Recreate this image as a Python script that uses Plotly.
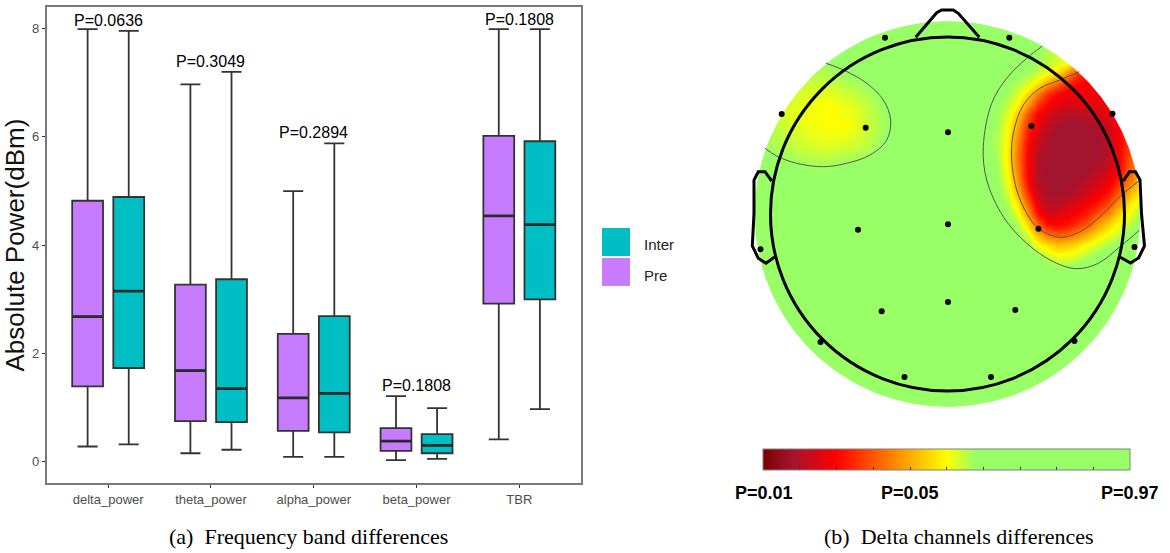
"""Frequency band boxplots (a) and delta channel p-value topomap (b)."""
import numpy as np
import plotly.graph_objects as go

W, H = 1170, 553

bands = ["delta_power", "theta_power", "alpha_power", "beta_power", "TBR"]
pre_low = [0.28, 0.155, 0.09, 0.03, 0.41]
pre_q1 = [1.39, 0.75, 0.57, 0.20, 2.92]
pre_med = [2.68, 1.68, 1.18, 0.38, 4.54]
pre_q3 = [4.82, 3.27, 2.36, 0.62, 6.02]
pre_up = [7.99, 6.97, 5.00, 1.21, 7.99]
inter_low = [0.32, 0.22, 0.09, 0.05, 0.97]
inter_q1 = [1.73, 0.73, 0.54, 0.155, 3.00]
inter_med = [3.15, 1.35, 1.26, 0.30, 4.38]
inter_q3 = [4.89, 3.37, 2.69, 0.51, 5.92]
inter_up = [7.96, 7.20, 5.88, 0.99, 7.99]
p_labels = ["P=0.0636", "P=0.3049", "P=0.2894", "P=0.1808", "P=0.1808"]
p_label_y = [8.15, 7.40, 6.08, 1.40, 8.17]

# topomap: head radius = 177 units
elec_x = [-62.5, 61.8, -165.8, -81.8, 0.5, 83.8, 165, -187, -89.5, 0.5, 91, 187,
          -65.8, 0.5, 67.8, -127, 127, -43, 43.5]
elec_y = [176.3, 176.3, 100, 86.3, 81.7, 88, 100.3, -35.3, -15.7, -10.3, -14.7, -33,
          -97.3, -88, -96, -128, -127, -163, -163]

nose_x = [-31.8, -10.8, -5.8, 5.8, 10.8, 31.8]
nose_y = [176.7, 201.3, 204, 204, 200.7, 176.7]
ear_l_x = [-175.8, -182.5, -189.2, -193.5, -193.5, -195.2, -189.2, -181.5, -172.5]
ear_l_y = [33, 42.3, 42.3, 34, 0.7, -32, -44.3, -49.3, -42.7]
ear_r_x = [175.8, 182, 188, 192.5, 194, 197, 191, 183, 172]
ear_r_y = [33, 42.3, 42.3, 34, 0, -32, -44, -49, -42.7]

cont_left_x = [-121.5, -102.5, -80.8, -64.2, -56.8, -60.8, -77.5, -100.8, -124.2, -150.8, -170.8, -182.5]
cont_left_y = [150.7, 143.3, 130.7, 114, 94, 74, 59, 50.7, 47.3, 50.7, 58, 65.7]
cont_outer_x = [94.8, 79.2, 59.2, 44.2, 35.8, 39.2, 55.8, 79.2, 105.8, 129.2, 150.8, 172.5, 191.8]
cont_outer_y = [168, 155.7, 135.7, 110.7, 67.3, 34, -2.7, -29.3, -47.7, -54.7, -49.3, -32.7, -16.3]
cont_inner_x = [131.8, 112.5, 92.5, 75.8, 65.8, 64.2, 69.2, 79.2, 91.2, 112.5, 132.5, 152.5, 172.5, 191.5]
cont_inner_y = [142.3, 134, 125.7, 109, 80.7, 54, 24, 0.7, -14.7, -23.3, -17.7, -2.7, 17.3, 33.3]

# p-value levels (colour position on the bar, 0..1)
right_x = [30, 40, 50, 60, 70, 80, 90, 100, 110, 120, 130, 140, 150, 160, 170, 180, 190, 200]
right_y = [180, 170, 160, 150, 140, 130, 120, 110, 100, 90, 80, 70, 60, 50, 40, 30, 20, 10, 0,
           -10, -20, -30, -40, -50, -60]
right_z = [
    [.6, .6, .6, .6, .6, .6, .59, .58, .56, .54, .5, .45, .4, .4, .4, .4, .4, .4],
    [.6, .6, .6, .6, .6, .6, .59, .57, .55, .52, .48, .42, .36, .36, .36, .36, .36, .36],
    [.6, .6, .6, .6, .6, .6, .58, .56, .54, .51, .45, .36, .3, .3, .3, .3, .3, .3],
    [.6, .6, .6, .6, .6, .59, .57, .55, .53, .49, .4, .3, .25, .25, .25, .25, .25, .25],
    [.6, .6, .6, .6, .59, .57, .54, .5, .45, .36, .26, .22, .22, .22, .22, .22, .22, .22],
    [.6, .6, .6, .58, .56, .53, .47, .38, .31, .24, .2, .19, .2, .24, .24, .24, .24, .24],
    [.6, .6, .59, .57, .53, .46, .35, .25, .2, .18, .18, .18, .18, .2, .24, .24, .24, .24],
    [.6, .6, .58, .55, .5, .39, .27, .2, .17, .15, .16, .17, .17, .18, .2, .24, .26, .26],
    [.6, .59, .57, .53, .44, .3, .2, .16, .12, .1, .1, .12, .15, .17, .2, .24, .28, .28],
    [.6, .59, .57, .51, .4, .26, .18, .12, .09, .08, .08, .09, .1, .14, .19, .25, .3, .3],
    [.6, .59, .56, .5, .37, .23, .15, .1, .08, .08, .08, .08, .08, .12, .19, .25, .31, .31],
    [.6, .58, .56, .49, .35, .21, .13, .09, .08, .08, .08, .08, .08, .11, .18, .26, .33, .33],
    [.6, .59, .56, .48, .34, .2, .11, .08, .08, .08, .08, .08, .08, .11, .18, .27, .35, .35],
    [.6, .59, .57, .49, .34, .2, .1, .08, .08, .08, .08, .08, .09, .12, .18, .28, .36, .36],
    [.6, .6, .57, .5, .36, .2, .1, .08, .08, .08, .08, .09, .12, .15, .2, .3, .38, .38],
    [.6, .6, .58, .52, .38, .22, .11, .08, .08, .08, .09, .12, .15, .18, .25, .34, .42, .42],
    [.6, .6, .59, .54, .42, .26, .13, .09, .08, .09, .12, .15, .18, .22, .3, .4, .47, .47],
    [.6, .6, .6, .56, .47, .32, .17, .11, .11, .14, .16, .19, .23, .28, .37, .46, .52, .52],
    [.6, .6, .6, .58, .52, .38, .22, .15, .16, .18, .2, .24, .3, .35, .44, .5, .55, .55],
    [.6, .6, .6, .59, .56, .46, .31, .21, .2, .22, .26, .3, .38, .44, .5, .54, .58, .58],
    [.6, .6, .6, .6, .58, .53, .41, .33, .3, .31, .35, .4, .46, .5, .54, .58, .6, .6],
    [.6, .6, .6, .6, .6, .57, .5, .45, .42, .43, .46, .5, .53, .56, .58, .6, .6, .6],
    [.6, .6, .6, .6, .6, .6, .57, .53, .5, .5, .52, .55, .58, .6, .6, .6, .6, .6],
    [.6, .6, .6, .6, .6, .6, .6, .58, .56, .56, .58, .6, .6, .6, .6, .6, .6, .6],
    [.6, .6, .6, .6, .6, .6, .6, .6, .6, .6, .6, .6, .6, .6, .6, .6, .6, .6],
]
left_x = [-200, -180, -160, -140, -120, -100, -80, -60, -40]
left_y = [170, 150, 130, 110, 90, 70, 50, 30]
left_z = [
    [.6, .6, .6, .6, .6, .6, .6, .6, .6],
    [.6, .59, .58, .58, .58, .6, .6, .6, .6],
    [.59, .57, .56, .54, .54, .56, .58, .6, .6],
    [.58, .56, .53, .51, .5, .52, .55, .59, .6],
    [.58, .56, .53, .51, .5, .5, .54, .58, .6],
    [.59, .57, .55, .53, .52, .53, .55, .59, .6],
    [.6, .59, .58, .57, .57, .58, .59, .6, .6],
    [.6, .6, .6, .6, .6, .6, .6, .6, .6],
]
bar_ticks = [0, .1, .2, .3, .4, .5, .6, .7, .8, .9, 1]
bar_labels = ["P=0.01", "P=0.05", "P=0.97"]
bar_label_pos = [0, .4, 1]

PURPLE = "#C77CFF"
TEAL = "#00BFC4"
GREEN = "#99FF66"
colorscale = [[0, "#7a0000"], [.08, "#a3142e"], [.2, "#ff0000"], [.35, "#ff8000"],
              [.5, "#ffff00"], [.58, GREEN], [1, GREEN]]


def px(x):
    return x / W


def py(y):
    return 1 - y / H


fig = go.Figure()

# (a) boxplots -------------------------------------------------------------
for name, color, low, q1, med, q3, up in [
    ("Pre", PURPLE, pre_low, pre_q1, pre_med, pre_q3, pre_up),
    ("Inter", TEAL, inter_low, inter_q1, inter_med, inter_q3, inter_up),
]:
    fig.add_trace(go.Box(x=bands, lowerfence=low, q1=q1, median=med, q3=q3, upperfence=up,
                         name=name, fillcolor=color, line=dict(color="#333333", width=1.8),
                         whiskerwidth=0.65, boxpoints=False, showlegend=False,
                         offsetgroup=name, xaxis="x", yaxis="y"))
    # thicker median bar: a flat box on the same slot
    fig.add_trace(go.Box(x=bands, lowerfence=med, q1=med, median=med, q3=med, upperfence=med,
                         name=name, fillcolor="rgba(0,0,0,0)", line=dict(color="#2b2b2b", width=2.8),
                         whiskerwidth=0, boxpoints=False, showlegend=False,
                         offsetgroup=name, xaxis="x", yaxis="y"))

# (b) topomap --------------------------------------------------------------
for xs, ys, zs in [(right_x, right_y, right_z), (left_x, left_y, left_z)]:
    fig.add_trace(go.Heatmap(x=xs, y=ys, z=zs, coloraxis="coloraxis", zsmooth="best",
                             xaxis="x2", yaxis="y2", hoverinfo="skip"))

# white mask outside the coloured disc
theta = np.linspace(0, 2 * np.pi, 361)
mask_x = [-216, -216, 216, 216, -216] + list(-193 * np.cos(theta))
mask_y = [-216, 216, 216, -216, -216] + list(-193 * np.sin(theta))
fig.add_trace(go.Scatter(x=mask_x, y=mask_y, mode="lines", fill="toself", fillcolor="white",
                         line=dict(width=0), hoverinfo="skip", showlegend=False,
                         xaxis="x2", yaxis="y2"))

for xs, ys in [(cont_left_x, cont_left_y), (cont_outer_x, cont_outer_y), (cont_inner_x, cont_inner_y)]:
    fig.add_trace(go.Scatter(x=xs, y=ys, mode="lines", line=dict(color="#555555", width=1, shape="spline"),
                             hoverinfo="skip", showlegend=False, xaxis="x2", yaxis="y2"))
for xs, ys in [(nose_x, nose_y), (ear_l_x, ear_l_y), (ear_r_x, ear_r_y)]:
    fig.add_trace(go.Scatter(x=xs, y=ys, mode="lines", line=dict(color="black", width=3),
                             hoverinfo="skip", showlegend=False, xaxis="x2", yaxis="y2"))
fig.add_trace(go.Scatter(x=elec_x, y=elec_y, mode="markers", marker=dict(color="black", size=6),
                         hoverinfo="skip", showlegend=False, xaxis="x2", yaxis="y2"))

fig.add_shape(type="circle", xref="x2", yref="y2", x0=-193, x1=193, y0=-193, y1=193,
              fillcolor=GREEN, line=dict(width=0), layer="below")
fig.add_shape(type="circle", xref="x2", yref="y2", x0=-177, x1=177, y0=-177, y1=177,
              line=dict(color="black", width=3), layer="above")

# legend keys
for y0, color in [(228, TEAL), (258, PURPLE)]:
    fig.add_shape(type="rect", xref="paper", yref="paper", x0=px(602), x1=px(630),
                  y0=py(y0 + 28), y1=py(y0), fillcolor=color, line=dict(width=0))

SANS = "Liberation Sans"
notes = []
for band, label, y in zip(bands, p_labels, p_label_y):
    notes.append(dict(x=band, y=y, xref="x", yref="y", text=label, showarrow=False,
                      font=dict(family=SANS, size=16, color="black"), yanchor="middle"))
for pos, label in zip(bar_label_pos, bar_labels):
    notes.append(dict(x=px(763.5 + pos * 366.5), y=py(493), xref="paper", yref="paper",
                      text=f"<b>{label}</b>", showarrow=False, xanchor="center",
                      font=dict(family=SANS, size=18, color="black"), yanchor="middle"))
for text, x, y in [("Inter", 642, 244), ("Pre", 642, 275)]:
    notes.append(dict(x=px(x), y=py(y), xref="paper", yref="paper", text=text, showarrow=False,
                      xanchor="left", yanchor="middle", font=dict(family=SANS, size=15, color="#222222")))
for text, x in [("(a)  Frequency band differences", 308), ("(b)  Delta channels differences", 959)]:
    notes.append(dict(x=px(x), y=py(536.5), xref="paper", yref="paper", text=text, showarrow=False,
                      xanchor="center", yanchor="middle",
                      font=dict(family="Liberation Serif", size=22, color="black")))

fig.update_layout(
    width=W, height=H, margin=dict(l=0, r=0, t=0, b=0),
    paper_bgcolor="white", plot_bgcolor="white",
    boxmode="group", boxgap=0.2, boxgroupgap=0.25,
    annotations=notes,
    xaxis=dict(domain=[px(46.5), px(581)], type="category", categoryarray=bands,
               categoryorder="array", range=[-0.6, 4.6],
               showline=True, mirror=True, linecolor="#7a7a7a", linewidth=1.5,
               ticks="outside", ticklen=3, tickcolor="#333333", showgrid=False, zeroline=False,
               tickfont=dict(family=SANS, size=13, color="#4d4d4d")),
    yaxis=dict(domain=[py(483.3), py(7)], range=[-0.4, 8.4], tickvals=[0, 2, 4, 6, 8],
               showline=True, mirror=True, linecolor="#7a7a7a", linewidth=1.5,
               ticks="outside", ticklen=3, tickcolor="#333333", showgrid=False, zeroline=False,
               tickfont=dict(family=SANS, size=13, color="#4d4d4d"),
               title=dict(text="Absolute Power(dBm)", standoff=4,
                          font=dict(family=SANS, size=26, color="#111111"))),
    xaxis2=dict(domain=[px(740), px(1160)], range=[-207.5, 212.5], visible=False),
    yaxis2=dict(domain=[py(440), py(0)], range=[-226, 214], visible=False),
    coloraxis=dict(
        cmin=0, cmax=1, colorscale=colorscale,
        colorbar=dict(orientation="h", x=px(946.75), xanchor="center", len=366.5 / W, lenmode="fraction",
                      y=py(473.5), yanchor="bottom", thickness=21, thicknessmode="pixels",
                      xpad=0, ypad=0, outlinecolor="#808080", outlinewidth=1,
                      tickmode="array", tickvals=bar_ticks, ticks="inside", ticklen=3,
                      tickcolor="#333333", showticklabels=False),
    ),
)

fig.write_html("out.html", config={"displayModeBar": False},
               post_script="document.body.style.margin = '0';")
